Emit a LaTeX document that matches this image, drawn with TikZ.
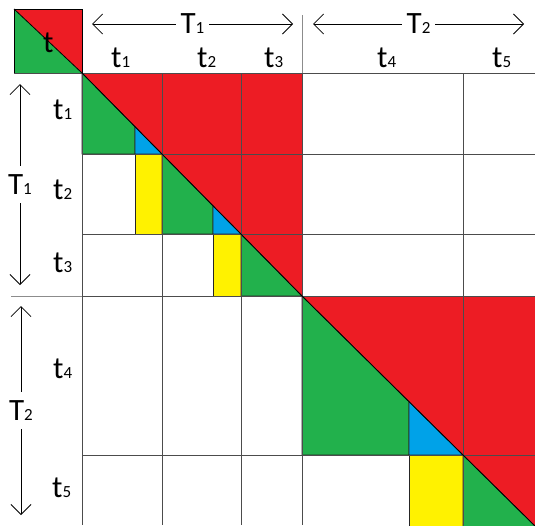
\documentclass[tikz,border=0pt]{standalone}
\usepackage{fontspec}
\setmainfont{Carlito}
\usetikzlibrary{arrows.meta}

\definecolor{cellred}{HTML}{ED1C24}
\definecolor{cellgreen}{HTML}{22B14C}
\definecolor{cellblue}{HTML}{00A2E8}
\definecolor{cellyellow}{HTML}{FFF200}

% letter with a small digit sitting on the baseline
\newcommand{\tsub}[2]{#1{\fontsize{17}{17}\selectfont #2}}

\tikzset{
  gridline/.style={black!70, line width=1pt},
  faintline/.style={gray!90, line width=1pt},
  outline/.style={draw=black!85, line width=0.7pt},
  dimarrow/.style={{Straight Barb[length=10pt,width=20pt]}-{Straight Barb[length=10pt,width=20pt]}, line width=0.8pt},
  dimlabel/.style={fill=white, inner xsep=5pt, inner ysep=9pt, font=\fontsize{31}{31}\selectfont},
  ticklabel/.style={anchor=base west, inner sep=0pt, font=\fontsize{31}{31}\selectfont}
}

\begin{document}
\begin{tikzpicture}[x=1pt,y=-1pt]
  \useasboundingbox (0,0) rectangle (535,525);
  \begin{scope}
  \clip (0,0) rectangle (535,525);

  % Draw the corner icon
  \path[fill=cellred] (14,9) -- (82,9) -- (82,73) -- cycle;
  \path[fill=cellgreen] (14,9) -- (14,73) -- (82,73) -- cycle;
  \draw[black, line width=1pt] (14,9) rectangle (82,73);
  \draw[black, line width=0.8pt] (14,9) -- (82,73);
  \node[ticklabel] (icont) at (43,52) {t};

  % Draw the coloured block of T_1
  \path[fill=cellred] (82,73) -- (302,73) -- (302,296) -- cycle;
  \path[fill=cellgreen, outline] (82,73) -- (135,126.7) -- (135,154) -- (82,154) -- cycle;
  \path[fill=cellblue, outline] (135,126.7) -- (162,154) -- (135,154) -- cycle;
  \path[fill=cellyellow, outline] (135,154) rectangle (162,234);
  \path[fill=cellgreen, outline] (162,154) -- (213,205.8) -- (213,234) -- (162,234) -- cycle;
  \path[fill=cellblue, outline] (213,205.8) -- (241,234) -- (213,234) -- cycle;
  \path[fill=cellyellow, outline] (213,234) rectangle (241,296);
  \path[fill=cellgreen, outline] (241,234) -- (302,296) -- (241,296) -- cycle;

  % Draw the coloured block of T_2
  \path[fill=cellred] (302,296) -- (545,296) -- (545,535.9) -- cycle;
  \path[fill=cellgreen, outline] (302,296) -- (409,401.7) -- (409,455) -- (302,455) -- cycle;
  \path[fill=cellblue, outline] (409,401.7) -- (463,455) -- (409,455) -- cycle;
  \path[fill=cellyellow, outline] (409,455) rectangle (463,535);
  \path[fill=cellgreen, outline] (463,455) -- (545,535.9) -- (463,535.9) -- cycle;

  % Draw the grid
  \draw[gridline] (14,73) -- (535,73);
  \foreach \y in {154,234,455}
    \draw[gridline] (82,\y) -- (535,\y);
  \draw[faintline] (11,296) -- (82,296);
  \draw[gridline] (82,296) -- (535,296);
  \foreach \x in {82,162,241,463}
    \draw[gridline] (\x,73) -- (\x,525);
  \draw[faintline] (302,15) -- (302,73);
  \draw[gridline] (302,73) -- (302,525);

  % Draw the diagonal
  \draw[black, line width=0.8pt] (82,73) -- (302,296) -- (463,455) -- (545,535.9);
  \end{scope}

  % Column and row labels
  \node[ticklabel] (col1) at (111,67) {\tsub{t}{1}};
  \node[ticklabel] (col2) at (197,67) {\tsub{t}{2}};
  \node[ticklabel] (col3) at (264,67) {\tsub{t}{3}};
  \node[ticklabel] (col4) at (377,67) {\tsub{t}{4}};
  \node[ticklabel] (col5) at (492,67) {\tsub{t}{5}};
  \node[ticklabel] (row1) at (53,119) {\tsub{t}{1}};
  \node[ticklabel] (row2) at (53,199) {\tsub{t}{2}};
  \node[ticklabel] (row3) at (53,272) {\tsub{t}{3}};
  \node[ticklabel] (row4) at (53,378) {\tsub{t}{4}};
  \node[ticklabel] (row5) at (52,497) {\tsub{t}{5}};

  % Draw the span arrows
  \coordinate (topT1a) at (92,24);
  \coordinate (topT1b) at (293,24);
  \coordinate (topT2a) at (313,24);
  \coordinate (topT2b) at (524,24);
  \coordinate (leftT1a) at (20,84);
  \coordinate (leftT1b) at (20,285);
  \coordinate (leftT2a) at (21,306);
  \coordinate (leftT2b) at (21,515);
  \draw[dimarrow] (topT1a) -- (topT1b) node[dimlabel, midway] (labtopT1) {\tsub{T}{1}};
  \draw[dimarrow] (topT2a) -- (topT2b) node[dimlabel, midway] (labtopT2) {\tsub{T}{2}};
  \draw[dimarrow] (leftT1a) -- (leftT1b) node[dimlabel, midway] (lableftT1) {\tsub{T}{1}};
  \draw[dimarrow] (leftT2a) -- (leftT2b) node[dimlabel, midway] (lableftT2) {\tsub{T}{2}};
\end{tikzpicture}
\end{document}
